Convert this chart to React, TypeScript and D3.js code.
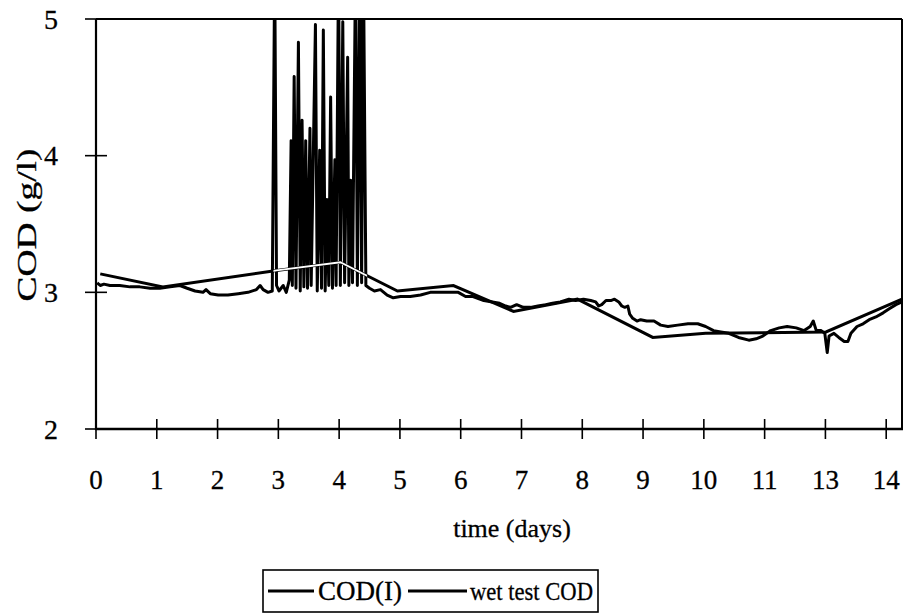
import React from "react";
import * as d3 from "d3";

// Tick labels along the time axis (as printed in the reference: 12 is skipped)
const xTickLabels = ["0", "1", "2", "3", "4", "5", "6", "7", "8", "9", "10", "11", "13", "14"];
const yTicks = [2, 3, 4, 5];

// COD(I): online measurement (time in tick units, COD g/l)
const codT = [
  0.02, 0.07, 0.13, 0.23, 0.39, 0.56, 0.72, 0.89, 1.05, 1.22, 1.38, 1.5, 1.63, 1.76, 1.81, 1.88,
  2.01, 2.17, 2.34, 2.5, 2.64, 2.7, 2.75, 2.83, 2.9,
  2.94, 2.97, 3.01, 3.08, 3.13, 3.18, 3.21, 3.23, 3.26, 3.29, 3.33, 3.36, 3.39, 3.42, 3.45, 3.48,
  3.52, 3.54, 3.61, 3.64, 3.68, 3.71, 3.74, 3.77, 3.8, 3.83, 3.86, 3.89, 3.93, 3.95, 3.99, 4.02,
  4.06, 4.09, 4.14, 4.16, 4.19, 4.22, 4.27, 4.3, 4.34, 4.37, 4.4, 4.44,
  4.5, 4.58, 4.68, 4.79, 4.89, 5.01, 5.17, 5.34, 5.5, 5.67, 5.83, 5.96, 6.08, 6.19, 6.38, 6.52,
  6.64, 6.74, 6.82, 6.92, 7.03, 7.15, 7.27, 7.4, 7.51, 7.64, 7.78, 7.89, 8.02, 8.14, 8.22, 8.27,
  8.32, 8.39, 8.47, 8.53, 8.6, 8.65, 8.7, 8.75, 8.78, 8.83, 8.9, 8.96, 9.06, 9.18, 9.29, 9.41,
  9.57, 9.74, 9.9, 10.03, 10.16, 10.28, 10.41, 10.57, 10.74, 10.86, 10.97, 11.1, 11.24, 11.37,
  11.52, 11.65, 11.75, 11.8, 11.85, 11.93, 11.99, 12.03, 12.06, 12.14, 12.22, 12.31, 12.37,
  12.42, 12.52, 12.62, 12.72, 12.83, 12.95, 13.05, 13.16, 13.26,
];
const codV = [
  3.07, 3.05, 3.06, 3.05, 3.05, 3.04, 3.04, 3.03, 3.03, 3.04, 3.05, 3.03, 3.01, 3.0, 3.02, 2.99,
  2.98, 2.98, 2.99, 3.0, 3.02, 3.05, 3.02, 3.0, 3.01,
  5.4, 3.05, 3.01, 3.05, 3.0, 3.09, 4.11, 3.05, 4.58, 3.03, 4.83, 3.01, 4.26, 3.04, 4.11, 3.03,
  4.2, 3.05, 4.96, 3.01, 4.04, 3.03, 4.92, 3.01, 3.68, 3.05, 4.43, 3.03, 3.97, 3.05, 5.4, 3.05,
  4.98, 3.07, 4.72, 3.05, 3.82, 3.07, 5.4, 3.05, 5.4, 3.07, 5.4, 3.05,
  3.03, 3.01, 3.02, 2.98, 2.96, 2.97, 2.97, 2.98, 3.0, 3.0, 3.0, 3.0, 2.97, 2.97, 2.94, 2.93,
  2.92, 2.9, 2.89, 2.91, 2.89, 2.89, 2.9, 2.91, 2.92, 2.93, 2.95, 2.94, 2.95, 2.94, 2.93, 2.9,
  2.91, 2.94, 2.94, 2.95, 2.93, 2.9, 2.89, 2.9, 2.84, 2.81, 2.79, 2.8, 2.79, 2.79, 2.76, 2.75,
  2.76, 2.77, 2.77, 2.75, 2.72, 2.71, 2.7, 2.67, 2.65, 2.66, 2.68, 2.72, 2.74, 2.75,
  2.74, 2.72, 2.75, 2.79, 2.72, 2.72, 2.7, 2.56, 2.68, 2.7, 2.67, 2.64, 2.64,
  2.7, 2.75, 2.77, 2.8, 2.82, 2.85, 2.88, 2.91, 2.93,
];

// wet test COD: laboratory samples joined by straight lines
const wetT = [0.07, 1.1, 2.97, 4.02, 4.96, 5.88, 6.87, 7.92, 9.16, 10.03, 12.01, 13.26];
const wetV = [3.135, 3.04, 3.16, 3.22, 3.01, 3.05, 2.86, 2.95, 2.67, 2.7, 2.71, 2.95];

const W = 906;
const H = 614;
const left = 96;
const right = 902;
const top = 19;
const bottom = 429;
const FONT = "'Liberation Serif', 'Times New Roman', serif";

export default function App() {
  const x = d3.scaleLinear().domain([0, 13.26]).range([left, right]);
  const y = d3.scaleLinear().domain([2, 5]).range([bottom, top]);

  const codData = codT.map((t, i) => [t, codV[i]] as [number, number]);
  const wetData = wetT.map((t, i) => [t, wetV[i]] as [number, number]);
  const line = d3
    .line<[number, number]>()
    .x((d) => x(d[0]))
    .y((d) => y(d[1]));

  const codPath = line(codData) || "";
  const wetPath = line(wetData) || "";
  const xTicks = xTickLabels.map((_, i) => i);
  const textStyle = { fill: "#000", stroke: "#000", strokeWidth: 0.3 };

  return (
    <svg
      width={W}
      height={H}
      style={{ position: "absolute", left: 0, top: 0, background: "#fff" }}
      fontFamily={FONT}
    >
      <defs>
        <clipPath id="plotClip">
          <rect x={left} y={top} width={right - left} height={bottom - top} />
        </clipPath>
        <clipPath id="spikeClip">
          <rect x={x(2.92)} y={top} width={x(4.46) - x(2.92)} height={bottom - top} />
        </clipPath>
      </defs>
      <rect x={0} y={0} width={W} height={H} fill="#fff" />

      {/* series */}
      <g clipPath="url(#plotClip)">
        <path d={codPath} fill="none" stroke="#000" strokeWidth={3} strokeLinejoin="round" />
        <path d={wetPath} fill="none" stroke="#000" strokeWidth={3} />
        <g clipPath="url(#spikeClip)">
          <path d={wetPath} fill="none" stroke="#fff" strokeWidth={1.8} />
        </g>
      </g>

      {/* plot frame */}
      <line x1={left} x2={right} y1={top} y2={top} stroke="#000" strokeWidth={2.2} />
      <line x1={right} x2={right} y1={top} y2={bottom} stroke="#000" strokeWidth={2} />
      <line x1={left} x2={left} y1={top} y2={bottom + 1} stroke="#000" strokeWidth={2.2} />
      <line x1={left - 1} x2={right + 1} y1={bottom} y2={bottom} stroke="#000" strokeWidth={2.6} />

      {/* y axis ticks */}
      {yTicks.map((v) => (
        <g key={"y" + v}>
          <line x1={left - 11} x2={left + 11} y1={y(v)} y2={y(v)} stroke="#000" strokeWidth={1.6} />
          <text x={58} y={y(v)} dy="0.35em" textAnchor="end" fontSize={28} style={textStyle}>
            {v}
          </text>
        </g>
      ))}

      {/* x axis ticks */}
      {xTicks.map((i) => (
        <g key={"x" + i}>
          <line x1={x(i)} x2={x(i)} y1={bottom - 10} y2={bottom + 10} stroke="#000" strokeWidth={1.6} />
          <text x={x(i)} y={489} textAnchor="middle" fontSize={27} style={textStyle}>
            {xTickLabels[i]}
          </text>
        </g>
      ))}

      {/* axis titles */}
      <text x={512} y={537} textAnchor="middle" fontSize={26} style={textStyle}>
        time (days)
      </text>
      <text
        transform={`translate(36, 225) rotate(-90)`}
        textAnchor="middle"
        fontSize={28}
        textLength={153}
        lengthAdjust="spacingAndGlyphs"
        style={textStyle}
      >
        COD (g/l)
      </text>

      {/* legend */}
      <rect x={263} y={570} width={335} height={42} fill="#fff" stroke="#000" strokeWidth={1.6} />
      <line x1={268} x2={314} y1={591} y2={591} stroke="#000" strokeWidth={2.8} />
      <text x={318} y={600} fontSize={27} textLength={84} lengthAdjust="spacingAndGlyphs" style={textStyle}>
        COD(I)
      </text>
      <line x1={408} x2={467} y1={591} y2={591} stroke="#000" strokeWidth={2.8} />
      <text x={470} y={600} fontSize={26} textLength={123} lengthAdjust="spacingAndGlyphs" style={textStyle}>
        wet test COD
      </text>
    </svg>
  );
}
